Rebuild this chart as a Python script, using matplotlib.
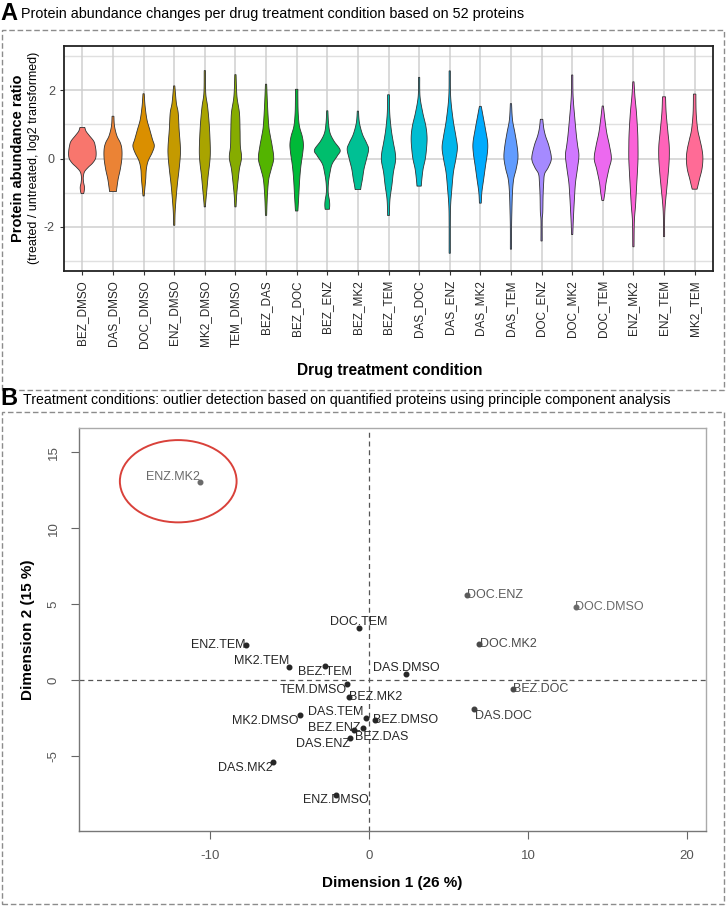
import numpy as np
import matplotlib
matplotlib.use("Agg")
import matplotlib.pyplot as plt
import matplotlib.transforms as mtransforms
from matplotlib.patches import Rectangle, Ellipse

plt.rcParams["font.family"] = ["Liberation Sans", "DejaVu Sans"]
plt.rcParams["axes.unicode_minus"] = False

# ---- panel A: violin outlines (y = log2 ratio, hw = half width in category units)
conditions = ["BEZ_DMSO", "DAS_DMSO", "DOC_DMSO", "ENZ_DMSO", "MK2_DMSO", "TEM_DMSO",
              "BEZ_DAS", "BEZ_DOC", "BEZ_ENZ", "BEZ_MK2", "BEZ_TEM", "DAS_DOC", "DAS_ENZ",
              "DAS_MK2", "DAS_TEM", "DOC_ENZ", "DOC_MK2", "DOC_TEM", "ENZ_MK2", "ENZ_TEM",
              "MK2_TEM"]

violin_y = [
    [-1.03, -0.96, -0.84, -0.70, -0.55, -0.39, -0.26, -0.14, 0.0, 0.17, 0.37, 0.51, 0.68, 0.80, 0.91],
    [-0.97, -0.84, -0.60, -0.31, 0.0, 0.27, 0.46, 0.66, 0.95, 1.24],
    [-1.10, -0.89, -0.60, -0.31, -0.07, 0.17, 0.37, 0.56, 0.85, 1.14, 1.53, 1.90],
    [-1.96, -1.57, -1.08, -0.70, -0.31, 0.08, 0.37, 0.85, 1.34, 1.63, 2.13],
    [-1.42, -1.28, -0.89, -0.50, -0.12, 0.17, 0.56, 1.05, 1.53, 1.92, 2.58],
    [-1.42, -1.08, -0.70, -0.31, 0.03, 0.37, 0.85, 1.34, 1.82, 2.46],
    [-1.67, -1.37, -0.99, -0.60, -0.31, 0.0, 0.37, 0.66, 0.95, 1.53, 2.18],
    [-1.54, -1.08, -0.60, -0.21, 0.17, 0.42, 0.66, 0.95, 1.34, 1.82, 2.03],
    [-1.49, -1.37, -1.23, -0.99, -0.70, -0.41, -0.16, 0.08, 0.25, 0.51, 0.75, 1.05, 1.40],
    [-0.91, -0.79, -0.60, -0.31, -0.02, 0.27, 0.46, 0.71, 1.05, 1.39],
    [-1.67, -1.57, -1.18, -0.79, -0.41, -0.07, 0.17, 0.46, 0.85, 1.34, 1.87],
    [-0.81, -0.60, -0.31, -0.02, 0.27, 0.61, 0.95, 1.34, 1.82, 2.38],
    [-2.78, -1.86, -1.37, -0.89, -0.41, -0.02, 0.32, 0.66, 1.14, 1.82, 2.57],
    [-1.31, -0.99, -0.60, -0.21, 0.17, 0.46, 0.85, 1.24, 1.53],
    [-2.66, -2.05, -1.57, -0.99, -0.60, -0.31, 0.03, 0.37, 0.75, 1.14, 1.61],
    [-2.42, -1.81, -1.57, -1.08, -0.70, -0.45, -0.26, 0.0, 0.37, 0.66, 0.90, 1.15],
    [-2.23, -1.96, -1.57, -1.08, -0.70, -0.31, 0.08, 0.37, 0.66, 1.14, 1.82, 2.45],
    [-1.23, -0.99, -0.70, -0.31, 0.0, 0.37, 0.75, 1.14, 1.54],
    [-2.59, -1.86, -1.37, -0.89, -0.41, -0.02, 0.37, 0.75, 1.34, 1.82, 2.25],
    [-2.29, -1.76, -1.37, -0.89, -0.41, -0.02, 0.37, 0.75, 1.34, 1.81],
    [-0.90, -0.79, -0.60, -0.31, 0.0, 0.27, 0.56, 0.85, 1.34, 1.89],
]
violin_hw = [
    [0.04, 0.06, 0.07, 0.04, 0.03, 0.07, 0.19, 0.33, 0.43, 0.45, 0.42, 0.37, 0.22, 0.12, 0.08],
    [0.11, 0.13, 0.17, 0.24, 0.29, 0.29, 0.24, 0.13, 0.05, 0.03],
    [0.02, 0.04, 0.07, 0.09, 0.15, 0.28, 0.35, 0.29, 0.20, 0.11, 0.05, 0.02],
    [0.02, 0.03, 0.07, 0.11, 0.16, 0.20, 0.20, 0.16, 0.13, 0.07, 0.02],
    [0.02, 0.03, 0.07, 0.11, 0.16, 0.18, 0.17, 0.14, 0.09, 0.03, 0.02],
    [0.02, 0.04, 0.08, 0.13, 0.20, 0.16, 0.15, 0.13, 0.05, 0.02],
    [0.02, 0.03, 0.05, 0.09, 0.17, 0.25, 0.20, 0.14, 0.09, 0.05, 0.02],
    [0.04, 0.07, 0.10, 0.14, 0.20, 0.22, 0.18, 0.09, 0.05, 0.04, 0.04],
    [0.07, 0.08, 0.07, 0.03, 0.04, 0.09, 0.16, 0.33, 0.42, 0.22, 0.09, 0.04, 0.02],
    [0.09, 0.11, 0.15, 0.20, 0.28, 0.35, 0.28, 0.15, 0.05, 0.02],
    [0.03, 0.03, 0.05, 0.11, 0.16, 0.23, 0.22, 0.16, 0.09, 0.04, 0.03],
    [0.07, 0.09, 0.13, 0.20, 0.24, 0.26, 0.22, 0.12, 0.03, 0.02],
    [0.02, 0.02, 0.03, 0.07, 0.12, 0.20, 0.25, 0.20, 0.11, 0.03, 0.02],
    [0.03, 0.05, 0.11, 0.17, 0.23, 0.24, 0.17, 0.09, 0.03],
    [0.02, 0.02, 0.03, 0.05, 0.09, 0.17, 0.23, 0.20, 0.13, 0.05, 0.02],
    [0.02, 0.02, 0.04, 0.05, 0.07, 0.10, 0.22, 0.32, 0.24, 0.13, 0.07, 0.04],
    [0.02, 0.03, 0.05, 0.08, 0.11, 0.17, 0.22, 0.18, 0.14, 0.09, 0.03, 0.02],
    [0.03, 0.07, 0.11, 0.20, 0.28, 0.22, 0.13, 0.07, 0.02],
    [0.02, 0.03, 0.07, 0.10, 0.13, 0.15, 0.15, 0.14, 0.10, 0.05, 0.02],
    [0.02, 0.02, 0.04, 0.09, 0.14, 0.17, 0.17, 0.13, 0.07, 0.05],
    [0.08, 0.11, 0.16, 0.24, 0.27, 0.24, 0.17, 0.10, 0.05, 0.04],
]

# ---- panel B: PCA coordinates
samples = ["ENZ.MK2", "DOC.ENZ", "DOC.DMSO", "DOC.TEM", "ENZ.TEM", "DOC.MK2", "MK2.TEM",
           "BEZ.TEM", "DAS.DMSO", "TEM.DMSO", "BEZ.MK2", "BEZ.DOC", "DAS.DOC", "MK2.DMSO",
           "DAS.TEM", "BEZ.DMSO", "BEZ.ENZ", "BEZ.DAS", "DAS.ENZ", "DAS.MK2", "ENZ.DMSO"]
dim1 = [-10.63, 6.18, 13.02, -0.63, -7.74, 6.94, -5.01, -2.75, 2.33, -1.40, -1.26, 9.08,
        6.60, -4.36, -0.21, 0.36, -0.94, -0.40, -1.17, -6.02, -2.10]
dim2 = [13.03, 5.61, 4.80, 3.44, 2.30, 2.37, 0.88, 0.92, 0.44, -0.26, -1.10, -0.55,
        -1.86, -2.24, -2.46, -2.63, -3.25, -3.11, -3.79, -5.35, -7.50]
# label offsets in pixels (dx, dy up)
label_off = [(-27, 5), (28, 0), (33, 0), (0, 6), (-28, 0), (29, 0), (-28, 6),
             (0, -6), (0, 6), (-34, -6), (27, 0), (27, 0), (29, -7), (-34, -6),
             (-30, 6), (31, 0), (-20, 2), (19, -9), (-27, -6), (-28, -6), (0, -5)]
label_col = ["#6a6a6a", "#5a5a5a", "#6a6a6a", "#262626", "#262626", "#4a4a4a", "#262626",
             "#262626", "#262626", "#262626", "#262626", "#4a4a4a", "#404040", "#262626",
             "#262626", "#262626", "#262626", "#262626", "#262626", "#262626", "#262626"]


def hue_pal(n, l=65, c=100):
    # ggplot2 default discrete palette (HCL -> sRGB)
    hues = np.linspace(15, 375, n + 1)[:n]
    Xn, Yn, Zn = 95.047, 100.0, 108.883
    un = 4 * Xn / (Xn + 15 * Yn + 3 * Zn)
    vn = 9 * Yn / (Xn + 15 * Yn + 3 * Zn)
    cols = []
    for h in hues:
        u = c * np.cos(np.radians(h))
        v = c * np.sin(np.radians(h))
        Y = Yn * ((l + 16) / 116) ** 3
        up = u / (13 * l) + un
        vp = v / (13 * l) + vn
        X = 9 * Y * up / (4 * vp)
        Z = -X / 3 - 5 * Y + 3 * Y / vp
        X, Y, Z = X / 100, Y / 100, Z / 100
        rgb = [3.240479 * X - 1.537150 * Y - 0.498535 * Z,
               -0.969256 * X + 1.875992 * Y + 0.041556 * Z,
               0.055648 * X - 0.204043 * Y + 1.057311 * Z]
        out = []
        for ch in rgb:
            ch = 12.92 * ch if ch <= 0.0031308 else 1.055 * ch ** (1 / 2.4) - 0.055
            out.append(min(max(ch, 0), 1))
        cols.append(tuple(out))
    return cols


def smooth_outline(ys, ws, n=10):
    pts = np.column_stack([ws, ys])
    P = np.vstack([pts[0], pts, pts[-1]])
    segs = []
    t = np.linspace(0, 1, n, endpoint=False)[:, None]
    for i in range(1, len(P) - 2):
        p0, p1, p2, p3 = P[i - 1], P[i], P[i + 1], P[i + 2]
        segs.append(0.5 * (2 * p1 + (-p0 + p2) * t + (2 * p0 - 5 * p1 + 4 * p2 - p3) * t ** 2
                           + (-p0 + 3 * p1 - 3 * p2 + p3) * t ** 3))
    segs.append(pts[-1][None])
    out = np.vstack(segs)
    out[:, 0] = np.clip(out[:, 0], 0.006, None)
    return out[:, 0], out[:, 1]


W, H = 726, 906
fig = plt.figure(figsize=(W / 100, H / 100), dpi=100)


def fx(px):
    return px / W


def fy(py):
    return 1 - py / H


# dashed panel frames
for top, bot in [(30, 390), (412, 904)]:
    fig.patches.append(Rectangle((fx(2), fy(bot)), fx(722), (bot - top) / H, transform=fig.transFigure,
                                 fill=False, ec="#8c8c8c", lw=1.0, ls=(0, (4, 2))))

fig.text(fx(0), fy(13), "A", fontsize=17, fontweight="bold", va="center", ha="left")
fig.text(fx(21), fy(14), "Protein abundance changes per drug treatment condition based on 52 proteins",
         fontsize=10.4, va="center", ha="left")
fig.text(fx(0), fy(399), "B", fontsize=17, fontweight="bold", va="center", ha="left")
fig.text(fx(23), fy(400), "Treatment conditions: outlier detection based on quantified proteins "
         "using principle component analysis", fontsize=10.2, va="center", ha="left")

# ---- panel A
axA = fig.add_axes([fx(64), fy(271), 649 / W, 225 / H])
cols = hue_pal(len(conditions))
xs = np.arange(1, len(conditions) + 1)
for yv in [-3, -1, 1, 3]:
    axA.axhline(yv, color="#e0e0e0", lw=1.0, zorder=0)
for yv in [-2, 0, 2]:
    axA.axhline(yv, color="#cfcfcf", lw=1.1, zorder=0)
for xv in xs:
    axA.axvline(xv, color="#cfcfcf", lw=1.1, zorder=0)
for xv, ys, ws, col in zip(xs, violin_y, violin_hw, cols):
    w, y = smooth_outline(ys, ws)
    px = np.concatenate([xv + w, (xv - w)[::-1]])
    py = np.concatenate([y, y[::-1]])
    axA.fill(px, py, facecolor=col, edgecolor="#333333", lw=0.6, zorder=2)
axA.set_xlim(0.4, len(conditions) + 0.6)
axA.set_ylim(-3.3, 3.3)
axA.set_yticks([-2, 0, 2])
axA.set_yticklabels(["-2", "0", "2"])
axA.set_xticks(xs)
axA.set_xticklabels(conditions, rotation=90, fontsize=8.5)
axA.tick_params(axis="both", length=3, width=0.8, color="#333333", labelcolor="#4d4d4d")
axA.tick_params(axis="x", labelcolor="#262626")
axA.tick_params(axis="y", labelsize=9)
for sp in axA.spines.values():
    sp.set_linewidth(1.3)
    sp.set_color("#222222")
fig.text(fx(18), fy(158), "Protein abundance ratio", rotation=90, fontsize=10.5, fontweight="bold",
         ha="center", va="center")
fig.text(fx(34), fy(158), "(treated / untreated, log2 transformed)", rotation=90, fontsize=9,
         ha="center", va="center")
fig.text(fx(390), fy(370), "Drug treatment condition", fontsize=11.2, fontweight="bold",
         ha="center", va="center")

# ---- panel B
axB = fig.add_axes([fx(79), fy(831), 627 / W, 403 / H])
axB.set_xlim(-18.24, 21.19)
axB.set_ylim(-9.9, 16.6)
axB.axhline(0, color="#555555", lw=0.9, ls=(0, (4, 3)), zorder=1)
axB.axvline(0, color="#555555", lw=0.9, ls=(0, (4, 3)), zorder=1)
for i, name in enumerate(samples):
    axB.plot(dim1[i], dim2[i], "o", ms=3.3, color=label_col[i], zorder=3)
    tr = mtransforms.offset_copy(axB.transData, fig=fig, x=label_off[i][0], y=label_off[i][1], units="dots")
    axB.text(dim1[i], dim2[i], name, transform=tr, fontsize=9, color=label_col[i],
             ha="center", va="center", zorder=4)
axB.add_patch(Ellipse((-12.0, 13.1), 7.34, 5.41, fill=False, ec="#d9413a", lw=1.4, zorder=5))
axB.set_xticks([-10, 0, 10, 20])
axB.set_yticks([-5, 0, 5, 10, 15])
axB.tick_params(axis="both", length=6, width=0.8, color="#666666", labelcolor="#555555",
                labelsize=9.5, pad=8)
for lab in axB.get_yticklabels():
    lab.set_rotation(90)
    lab.set_va("center")
for side, sp in axB.spines.items():
    sp.set_linewidth(1.0)
    sp.set_color("#777777" if side in ("left", "bottom") else "#aaaaaa")
axB.set_xlabel("Dimension 1 (26 %)", fontsize=11, fontweight="bold", labelpad=10)
fig.text(fx(28), fy(630), "Dimension 2 (15 %)", rotation=90, fontsize=11, fontweight="bold",
         ha="center", va="center")

fig.savefig("out.png", dpi=100)
